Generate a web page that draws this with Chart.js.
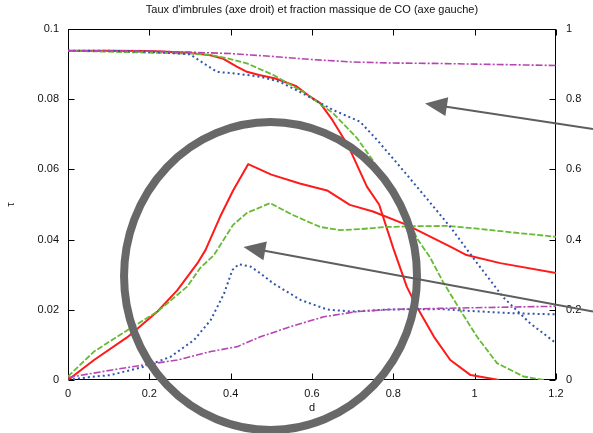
<!DOCTYPE html>
<html><head><meta charset="utf-8">
<script src="https://cdn.jsdelivr.net/npm/chart.js@4/dist/chart.umd.min.js"></script>
<style>html,body{margin:0;padding:0;background:#fff}#wrap{width:593px;height:433px;position:relative}</style>
</head><body><div id="wrap"><canvas id="c" width="593" height="433"></canvas></div>
<script>
const titleText = "Taux d'imbrules (axe droit) et fraction massique de CO (axe gauche)";
const xTitle = "d";
const yTitle = "τ";
const xTickValues = [0, 0.2, 0.4, 0.6, 0.8, 1, 1.2];
const xTickLabels = ["0", "0.2", "0.4", "0.6", "0.8", "1", "1.2"];
const yTickValues = [0, 0.02, 0.04, 0.06, 0.08, 0.1];
const yTickLabels = ["0", "0.02", "0.04", "0.06", "0.08", "0.1"];
const y1TickValues = [0, 0.2, 0.4, 0.6, 0.8, 1];
const y1TickLabels = ["0", "0.2", "0.4", "0.6", "0.8", "1"];

// Upper curves (right axis)
const redUpD = [0, 0.1, 0.2, 0.3, 0.35, 0.38, 0.415, 0.44, 0.47, 0.51, 0.56, 0.59, 0.62, 0.65, 0.69, 0.735, 0.765, 0.8, 0.833, 0.858, 0.9, 0.94, 0.99, 1.06];
const redUpV = [0.938, 0.938, 0.937, 0.932, 0.925, 0.916, 0.893, 0.878, 0.869, 0.859, 0.838, 0.812, 0.789, 0.741, 0.665, 0.551, 0.5, 0.375, 0.266, 0.208, 0.123, 0.057, 0.014, 0];
const greenUpD = [0, 0.15, 0.3, 0.35, 0.39, 0.44, 0.505, 0.578, 0.652, 0.71, 0.75, 0.784, 0.833, 0.86, 0.89, 0.922, 0.964, 1.006, 1.055, 1.12, 1.17];
const greenUpV = [0.938, 0.934, 0.93, 0.926, 0.917, 0.902, 0.869, 0.821, 0.76, 0.69, 0.625, 0.561, 0.465, 0.4, 0.35, 0.28, 0.2, 0.123, 0.048, 0.01, 0];
const blueUpD = [0, 0.1, 0.2, 0.3, 0.33, 0.366, 0.42, 0.472, 0.52, 0.57, 0.652, 0.718, 0.76, 0.817, 0.885, 0.94, 1.006, 1.07, 1.136, 1.2];
const blueUpV = [0.938, 0.938, 0.935, 0.928, 0.905, 0.878, 0.872, 0.864, 0.85, 0.821, 0.769, 0.736, 0.684, 0.607, 0.513, 0.436, 0.333, 0.236, 0.162, 0.105];
const magentaUpD = [0, 0.2, 0.3, 0.4, 0.45, 0.5, 0.6, 0.7, 0.8, 0.9, 1.0, 1.1, 1.2];
const magentaUpV = [0.938, 0.937, 0.934, 0.93, 0.926, 0.922, 0.913, 0.906, 0.903, 0.902, 0.9, 0.898, 0.896];

// Lower curves (left axis)
const redLowD = [0, 0.064, 0.146, 0.22, 0.269, 0.318, 0.338, 0.374, 0.406, 0.443, 0.5, 0.57, 0.637, 0.693, 0.75, 0.833, 0.94, 0.98, 1.063, 1.2];
const redLowV = [0, 0.0057, 0.0122, 0.0195, 0.0256, 0.0332, 0.037, 0.0465, 0.054, 0.0615, 0.0585, 0.056, 0.054, 0.0499, 0.048, 0.0442, 0.038, 0.0356, 0.0333, 0.0305];
const greenLowD = [0, 0.064, 0.146, 0.22, 0.293, 0.325, 0.359, 0.406, 0.44, 0.497, 0.553, 0.62, 0.669, 0.72, 0.784, 0.85, 0.932, 1.0, 1.08, 1.2];
const greenLowV = [0.001, 0.0081, 0.0142, 0.0195, 0.0266, 0.0319, 0.0356, 0.0442, 0.0476, 0.0504, 0.047, 0.0436, 0.0427, 0.043, 0.0436, 0.0438, 0.0439, 0.0432, 0.0422, 0.0408];
const blueLowD = [0, 0.05, 0.105, 0.187, 0.252, 0.31, 0.351, 0.384, 0.404, 0.42, 0.449, 0.473, 0.505, 0.572, 0.637, 0.695, 0.793, 0.916, 1.0, 1.1, 1.2];
const blueLowV = [0, 0.0008, 0.0014, 0.0038, 0.0066, 0.0114, 0.0171, 0.0247, 0.0313, 0.033, 0.0323, 0.0304, 0.0275, 0.0228, 0.0201, 0.0195, 0.0201, 0.0202, 0.0196, 0.019, 0.0187];
const magentaLowD = [0, 0.105, 0.187, 0.269, 0.351, 0.416, 0.473, 0.547, 0.629, 0.711, 0.793, 0.916, 1.0, 1.1, 1.2];
const magentaLowV = [0.0007, 0.0028, 0.0043, 0.0057, 0.0081, 0.0095, 0.0123, 0.0152, 0.018, 0.0195, 0.0201, 0.0204, 0.0206, 0.0208, 0.021];

const pts = (d, v) => d.map((x, i) => ({x: x, y: v[i]}));
const RED = '#ff1a1a', GREEN = '#66bb33', BLUE = '#3355aa', MAG = '#b545b0';
const FONT = "'Liberation Sans', Arial, Helvetica, sans-serif";
const FS = 11;

function ds(d, v, color, dash, axis, w) {
  return {data: pts(d, v), borderColor: color, borderWidth: w, borderDash: dash,
    yAxisID: axis, pointRadius: 0, tension: 0, fill: false, borderCapStyle: 'butt', borderJoinStyle: 'round'};
}

const frame = {
  id: 'frame',
  beforeDatasetsDraw(chart) {
    const {ctx, chartArea: a, scales} = chart;
    ctx.save();
    ctx.strokeStyle = '#000';
    ctx.lineWidth = 1;
    const L = Math.round(a.left) + 0.5, R = Math.round(a.right) - 0.5,
          T = Math.round(a.top) + 0.5, B = Math.round(a.bottom) - 0.5;
    ctx.strokeRect(L, T, R - L, B - T);
    const len = 6;
    ctx.beginPath();
    scales.x.ticks.forEach(t => {
      const px = Math.round(scales.x.getPixelForValue(t.value)) + 0.5;
      ctx.moveTo(px, B); ctx.lineTo(px, B - len);
      ctx.moveTo(px, T); ctx.lineTo(px, T + len);
    });
    scales.y.ticks.forEach(t => {
      const py = Math.round(scales.y.getPixelForValue(t.value)) + 0.5;
      ctx.moveTo(L, py); ctx.lineTo(L + len, py);
    });
    scales.y1.ticks.forEach(t => {
      const py = Math.round(scales.y1.getPixelForValue(t.value)) + 0.5;
      ctx.moveTo(R, py); ctx.lineTo(R - len, py);
    });
    ctx.stroke();
    ctx.restore();
  }
};

const overlay = {
  id: 'overlay',
  afterDraw(chart) {
    const {ctx, chartArea: a, scales: {x, y, y1}} = chart;
    ctx.save();
    // title
    ctx.fillStyle = '#111';
    ctx.font = FS + 'px ' + FONT;
    ctx.textAlign = 'center';
    ctx.textBaseline = 'middle';
    ctx.fillText(titleText, (a.left + a.right) / 2, 10);
    // ellipse annotation (in data units)
    const cx = x.getPixelForValue(0.498), cy = y.getPixelForValue(0.0296);
    const rx = x.getPixelForValue(0.498 + 0.3602) - cx;
    const ry = cy - y.getPixelForValue(0.0296 + 0.04387);
    ctx.strokeStyle = '#686868';
    ctx.lineWidth = 8;
    ctx.beginPath();
    ctx.ellipse(cx, cy, rx, ry, 0, 0, Math.PI * 2);
    ctx.stroke();
    // arrows
    function arrow(x0, y0, x1, y1p) {
      const ang = Math.atan2(y1p - y0, x1 - x0);
      const hl = 22, hw = 9.5;
      const bx = x1 - Math.cos(ang) * hl, by = y1p - Math.sin(ang) * hl;
      ctx.strokeStyle = '#5e5e5e';
      ctx.lineWidth = 2;
      ctx.beginPath();
      ctx.moveTo(x0, y0); ctx.lineTo(bx + Math.cos(ang) * 2, by + Math.sin(ang) * 2);
      ctx.stroke();
      ctx.fillStyle = '#666';
      ctx.beginPath();
      ctx.moveTo(x1, y1p);
      ctx.lineTo(bx - Math.sin(ang) * hw, by + Math.cos(ang) * hw);
      ctx.lineTo(bx + Math.sin(ang) * hw, by - Math.cos(ang) * hw);
      ctx.closePath();
      ctx.fill();
    }
    arrow(x.getPixelForValue(1.291), y1.getPixelForValue(0.715), x.getPixelForValue(0.878), y1.getPixelForValue(0.788));
    arrow(x.getPixelForValue(1.291), y.getPixelForValue(0.01954), x.getPixelForValue(0.4315), y.getPixelForValue(0.0379));
    ctx.restore();
  }
};

new Chart(document.getElementById('c'), {
  type: 'line',
  data: {
    datasets: [
      ds(magentaUpD, magentaUpV, MAG, [7, 2, 2, 2], 'y1', 1.6),
      ds(magentaLowD, magentaLowV, MAG, [7, 2, 2, 2], 'y', 1.6),
      ds(blueUpD, blueUpV, BLUE, [2, 3], 'y1', 2),
      ds(blueLowD, blueLowV, BLUE, [2, 3], 'y', 2),
      ds(greenUpD, greenUpV, GREEN, [6, 2], 'y1', 1.8),
      ds(greenLowD, greenLowV, GREEN, [6, 2], 'y', 1.8),
      ds(redUpD, redUpV, RED, [], 'y1', 2),
      ds(redLowD, redLowV, RED, [], 'y', 2)
    ]
  },
  options: {
    responsive: false,
    animation: false,
    devicePixelRatio: 1,
    layout: {padding: {top: 29, left: 0, right: 0, bottom: 0}},
    plugins: {legend: {display: false}, title: {display: false}, tooltip: {enabled: false}},
    scales: {
      x: {
        type: 'linear', min: 0, max: 1.2, position: 'bottom',
        afterBuildTicks: s => { s.ticks = xTickValues.map(v => ({value: v})); },
        afterFit: s => { s.height = 53; },
        grid: {display: false, drawTicks: false},
        border: {display: false},
        ticks: {padding: 7, color: '#111', font: {family: FONT, size: FS}, maxRotation: 0,
          callback: (v, i) => xTickLabels[i]},
        title: {display: true, text: xTitle, color: '#111', font: {family: FONT, size: FS}, padding: {top: 0, bottom: 18}}
      },
      y: {
        type: 'linear', min: 0, max: 0.1, position: 'left',
        afterBuildTicks: s => { s.ticks = yTickValues.map(v => ({value: v})); },
        afterFit: s => { s.width = 68; },
        grid: {display: false, drawTicks: false},
        border: {display: false},
        ticks: {padding: 9, color: '#111', font: {family: FONT, size: FS},
          callback: (v, i) => yTickLabels[i]},
        title: {display: true, text: yTitle, color: '#111', font: {family: FONT, size: FS}, padding: {top: 4, bottom: 0}}
      },
      y1: {
        type: 'linear', min: 0, max: 1, position: 'right',
        afterBuildTicks: s => { s.ticks = y1TickValues.map(v => ({value: v})); },
        afterFit: s => { s.width = 37; },
        grid: {display: false, drawTicks: false},
        border: {display: false},
        ticks: {padding: 10, color: '#111', font: {family: FONT, size: FS},
          callback: (v, i) => y1TickLabels[i]}
      }
    }
  },
  plugins: [frame, overlay]
});
</script>
</body></html>
